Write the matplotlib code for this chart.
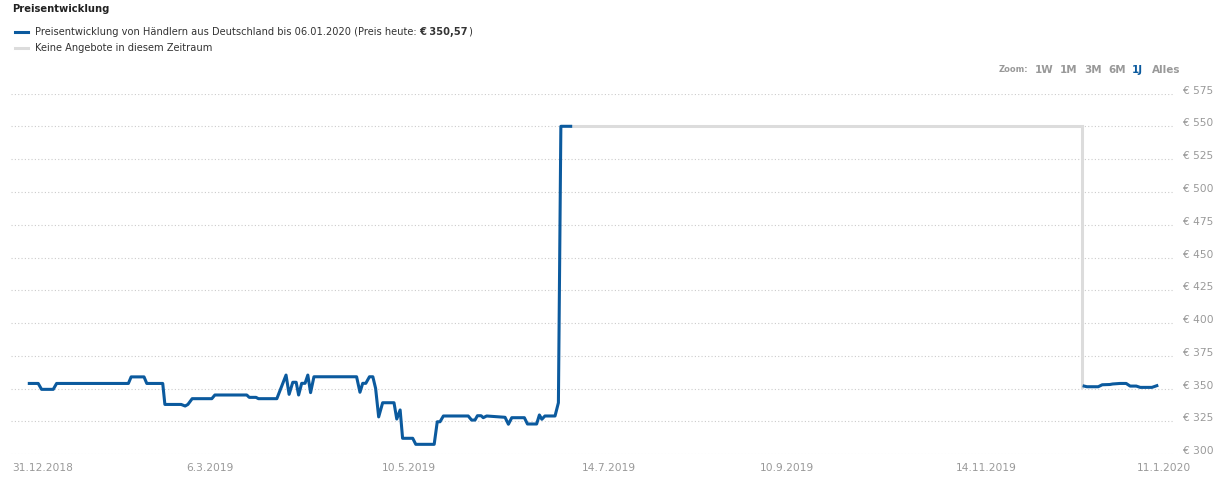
import pandas as pd
import matplotlib
matplotlib.use('Agg')
import matplotlib.pyplot as plt
from matplotlib.lines import Line2D
from matplotlib.ticker import FuncFormatter
from matplotlib.transforms import ScaledTranslation

# data: days after 31.12.2018 and price in euro
START = pd.Timestamp('2018-12-31')

price_days = [6.1, 9.0, 10.1, 13.9, 15.0, 38.4, 39.3, 43.5, 44.4, 49.6, 50.3, 55.6,
              56.9, 57.8, 59.2, 65.6, 66.6, 77.0, 77.8, 80.0, 80.8, 86.8, 88.4, 89.8,
              90.8, 92.0, 93.1, 93.9, 94.9, 96.0, 96.9, 97.8, 98.9, 112.8, 113.9, 114.8,
              115.8, 117.0, 118.1, 119.0, 120.0, 121.3, 125.0, 125.9, 127.0, 127.8, 131.1,
              132.1, 138.1, 139.1, 140.0, 141.1, 149.2, 150.3, 151.4, 152.2, 153.4, 154.1,
              155.2, 161.2, 162.3, 163.4, 167.5, 168.5, 171.5, 172.4, 173.2, 174.2, 177.5,
              178.6, 179.4, 182.6]
price_values = [354, 354, 349.5, 349.5, 354, 354, 359, 359, 354, 354, 338, 338,
                336.8, 338, 342.4, 342.4, 345.2, 345.2, 343.4, 343.4, 342.4, 342.4, 352, 360.4,
                345.7, 354.9, 354.9, 345.2, 354.1, 354.1, 360.4, 347, 359.1, 359.1, 347.3, 354.1,
                354.1, 359.1, 359.1, 350.3, 328.5, 339.3, 339.3, 326.9, 333.8, 312.2, 312.2,
                307.6, 307.6, 324.8, 324.8, 329.2, 329.2, 326.1, 326.1, 329.4, 329.4, 327.9,
                329.2, 328.2, 322.9, 327.9, 327.9, 323.1, 323.1, 330, 326.7, 329.2, 329.2,
                339.3, 550, 550]

gap_days = [182.6, 349.2, 349.2]
gap_values = [550, 550, 351]

late_days = [350.0, 350.9, 354.6, 355.9, 358.4, 359.3, 361.7, 363.7, 365.0, 367.0,
             368.3, 372.1, 373.7]
late_values = [352, 351.5, 351.5, 353, 353.2, 353.6, 354, 354, 352, 352, 351, 351, 352.3]

tick_dates = ['2018-12-31', '2019-03-06', '2019-05-10', '2019-07-14', '2019-09-10',
              '2019-11-14', '2020-01-11']
tick_labels = ['31.12.2018', '6.3.2019', '10.5.2019', '14.7.2019', '10.9.2019',
               '14.11.2019', '11.1.2020']
y_ticks = list(range(300, 576, 25))

legend_blue = 'Preisentwicklung von Händlern aus Deutschland bis 06.01.2020 (Preis heute: '
legend_bold = '€ 350,57'
legend_gray = 'Keine Angebote in diesem Zeitraum'
zoom_buttons = ['1W', '1M', '3M', '6M', '1J', 'Alles']

BLUE = '#0b5a9e'
GRAY = '#dcdcdc'
LABEL = '#999999'

W, H = 1223, 487
fig = plt.figure(figsize=(W / 100, H / 100), dpi=100)
ax = fig.add_axes([10.6 / W, (H - 454.3) / H, (1174 - 10.6) / W, (454.3 - 93.5) / H])


def to_dates(days):
    return START + pd.to_timedelta(days, unit='D')


ax.plot(to_dates(gap_days), gap_values, color=GRAY, lw=2.2, solid_joinstyle='miter')
ax.plot(to_dates(price_days), price_values, color=BLUE, lw=2.2)
ax.plot(to_dates(late_days), late_values, color=BLUE, lw=2.2)

ax.set_xlim(START, START + pd.Timedelta(days=379.3))
ax.set_ylim(300, 575)

for s in ax.spines.values():
    s.set_visible(False)

ax.set_yticks(y_ticks)
ax.yaxis.tick_right()
ax.yaxis.set_major_formatter(FuncFormatter(lambda v, p: f'€ {v:.0f}'))
ax.grid(axis='y', color='#cccccc', lw=0.8, linestyle=(0, (1, 2)))
ax.set_axisbelow(True)

ax.set_xticks(pd.to_datetime(tick_dates))
ax.set_xticklabels(tick_labels)
ax.tick_params(axis='both', length=0, labelsize=7.7, labelcolor=LABEL)
ax.tick_params(axis='y', pad=6.5)
ax.tick_params(axis='x', pad=6.5)
ax.get_xticklabels()[0].set_horizontalalignment('left')
ax.get_xticklabels()[0].set_transform(ax.get_xticklabels()[0].get_transform()
                                      + ScaledTranslation(2 / 100, 0, fig.dpi_scale_trans))
for lab in ax.get_yticklabels():
    lab.set_transform(lab.get_transform() + ScaledTranslation(0, 4 / 100, fig.dpi_scale_trans))

# title and legend
fig.text(12 / W, 1 - 9 / H, 'Preisentwicklung', fontsize=7.2, weight='bold',
         color='#222222', va='center')
fig.add_artist(Line2D([15 / W, 28 / W], [1 - 32 / H] * 2, color=BLUE, lw=2.2))
fig.add_artist(Line2D([15 / W, 28 / W], [1 - 48 / H] * 2, color=GRAY, lw=2.2))
t1 = fig.text(34.7 / W, 1 - 32 / H, legend_blue, fontsize=7.1, color='#333333', va='center')
fig.text(34.7 / W, 1 - 48 / H, legend_gray, fontsize=7.1, color='#333333', va='center')
r = fig.canvas.get_renderer()
bb = t1.get_window_extent(r)
t2 = fig.text(bb.x1 / W, 1 - 32 / H, legend_bold, fontsize=7.1, weight='bold',
              color='#333333', va='center')
bb2 = t2.get_window_extent(r)
fig.text(bb2.x1 / W, 1 - 32 / H, ')', fontsize=7.1, color='#333333', va='center')

# zoom buttons
fig.text(999 / W, 1 - 70 / H, 'Zoom:', fontsize=6, weight='bold', color=LABEL, va='center')
for name, x in zip(zoom_buttons, [1035, 1060, 1084, 1108, 1132, 1152]):
    fig.text(x / W, 1 - 70 / H, name, fontsize=7.5, weight='bold', va='center',
             color=BLUE if name == '1J' else LABEL)

fig.savefig('out.png', dpi=100)
